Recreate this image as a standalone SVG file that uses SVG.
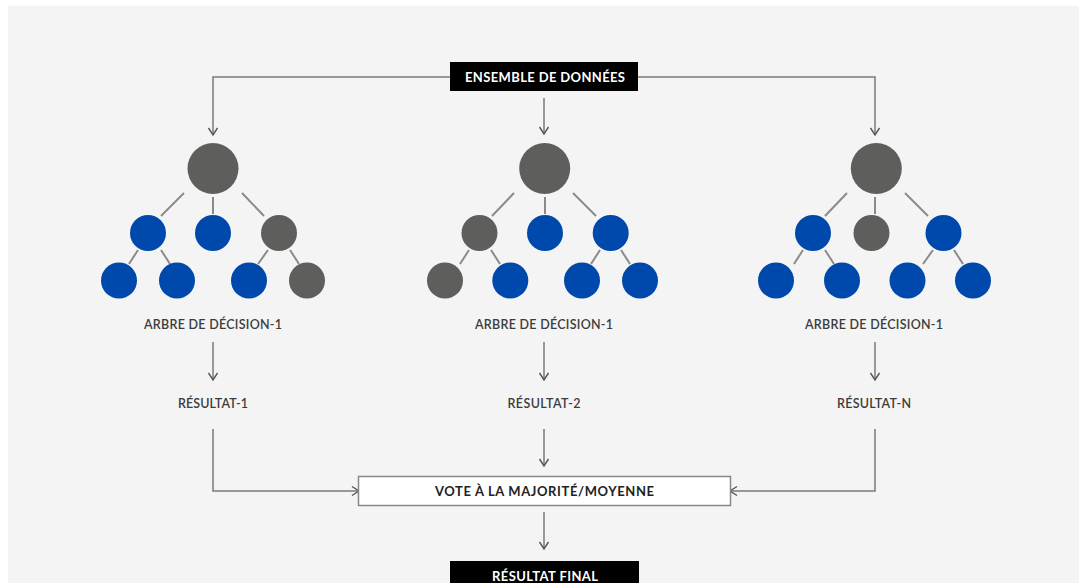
<svg xmlns="http://www.w3.org/2000/svg" width="1079" height="583" viewBox="0 0 1079 583">
  <defs>
    <marker id="arrow" viewBox="0 0 12 12" refX="10" refY="6" markerWidth="12" markerHeight="12" markerUnits="userSpaceOnUse" orient="auto">
      <path d="M3,1.5 L10,6 L3,10.5" fill="none" stroke="#555" stroke-width="1.4"/>
    </marker>
    <style>
      .panel { fill: #f4f4f4; }
      .conn { fill: none; stroke: #7a7a7a; stroke-width: 1.5; }
      .edge { stroke: #8a8a8a; stroke-width: 2; }
      .g { fill: #5e5e5c; }
      .b { fill: #0049ac; }
      .dark { fill: #000; }
      .vote { fill: #fff; stroke: #888; stroke-width: 1.5; }
      .title { font-family: Lato, "Open Sans", sans-serif; font-weight: 700; font-size: 13px; fill: #fff; text-anchor: middle; }
      .label { font-family: Lato, "Open Sans", sans-serif; font-weight: 600; font-size: 12.5px; fill: #3c3c3c; text-anchor: middle; }
      .votetxt { font-family: Lato, "Open Sans", sans-serif; font-weight: 700; font-size: 13px; fill: #222; text-anchor: middle; }
    </style>
  </defs>

  <rect x="0" y="0" width="1079" height="583" fill="#fff"/>
  <rect class="panel" x="8" y="6" width="1071" height="577"/>

  <!-- connectors -->
  <g id="connectors">
    <polyline class="conn" points="450,77 213,77 213,135" marker-end="url(#arrow)"/>
    <polyline class="conn" points="638,77 875,77 875,135" marker-end="url(#arrow)"/>
    <line class="conn" x1="544" y1="98" x2="544" y2="134" marker-end="url(#arrow)"/>

    <line class="conn" x1="213" y1="342" x2="213" y2="380" marker-end="url(#arrow)"/>
    <line class="conn" x1="544" y1="342" x2="544" y2="380" marker-end="url(#arrow)"/>
    <line class="conn" x1="875" y1="342" x2="875" y2="380" marker-end="url(#arrow)"/>

    <polyline class="conn" points="213,429 213,491 359,491" marker-end="url(#arrow)"/>
    <line class="conn" x1="544" y1="429" x2="544" y2="466" marker-end="url(#arrow)"/>
    <polyline class="conn" points="875,429 875,491 730,491" marker-end="url(#arrow)"/>

    <line class="conn" x1="544" y1="512" x2="544" y2="549" marker-end="url(#arrow)"/>
  </g>

  <!-- data set -->
  <g id="dataset">
    <rect class="dark" x="450" y="62" width="188" height="29"/>
    <text class="title" x="545" y="81.5" textLength="160">ENSEMBLE DE DONNÉES</text>
  </g>

  <!-- tree 1 -->
  <g id="tree1">
    <line class="edge" x1="184" y1="193" x2="161" y2="216"/>
    <line class="edge" x1="213" y1="197" x2="213" y2="214"/>
    <line class="edge" x1="242" y1="193" x2="264" y2="216"/>
    <line class="edge" x1="138" y1="250" x2="129" y2="264"/>
    <line class="edge" x1="161" y1="250" x2="170" y2="264"/>
    <line class="edge" x1="268" y1="250" x2="258" y2="264"/>
    <line class="edge" x1="290" y1="250" x2="299" y2="264"/>
    <circle class="g" cx="213" cy="168.5" r="25.5"/>
    <circle class="b" cx="148" cy="233" r="18"/>
    <circle class="b" cx="213" cy="233" r="18"/>
    <circle class="g" cx="279" cy="233" r="18"/>
    <circle class="b" cx="119" cy="280.5" r="18"/>
    <circle class="b" cx="177" cy="280.5" r="18"/>
    <circle class="b" cx="249" cy="280.5" r="18"/>
    <circle class="g" cx="307" cy="280.5" r="18"/>
  </g>
  <g id="label1"><text class="label" x="213" y="329" textLength="138">ARBRE DE DÉCISION-1</text></g>
  <g id="result1"><text class="label" x="213" y="408" textLength="70">RÉSULTAT-1</text></g>

  <!-- tree 2 -->
  <g id="tree2">
    <line class="edge" x1="514" y1="193" x2="492" y2="216"/>
    <line class="edge" x1="545" y1="197" x2="545" y2="214"/>
    <line class="edge" x1="573" y1="193" x2="596" y2="216"/>
    <line class="edge" x1="469" y1="250" x2="460" y2="264"/>
    <line class="edge" x1="491" y1="250" x2="500" y2="264"/>
    <line class="edge" x1="600" y1="250" x2="591" y2="264"/>
    <line class="edge" x1="621" y1="250" x2="630" y2="264"/>
    <circle class="g" cx="544.7" cy="168.5" r="25.5"/>
    <circle class="g" cx="479.5" cy="233" r="18"/>
    <circle class="b" cx="545" cy="233" r="18"/>
    <circle class="b" cx="610.7" cy="233" r="18"/>
    <circle class="g" cx="445" cy="280.5" r="18"/>
    <circle class="b" cx="510.3" cy="280.5" r="18"/>
    <circle class="b" cx="582" cy="280.5" r="18"/>
    <circle class="b" cx="640" cy="280.5" r="18"/>
  </g>
  <g id="label2"><text class="label" x="544" y="329" textLength="138">ARBRE DE DÉCISION-1</text></g>
  <g id="result2"><text class="label" x="544" y="408" textLength="73">RÉSULTAT-2</text></g>

  <!-- tree 3 -->
  <g id="tree3">
    <line class="edge" x1="847" y1="193" x2="825" y2="216"/>
    <line class="edge" x1="875" y1="197" x2="875" y2="214"/>
    <line class="edge" x1="905" y1="193" x2="928" y2="216"/>
    <line class="edge" x1="803" y1="250" x2="794" y2="264"/>
    <line class="edge" x1="825" y1="250" x2="834" y2="264"/>
    <line class="edge" x1="933" y1="250" x2="923" y2="264"/>
    <line class="edge" x1="954" y1="250" x2="963" y2="264"/>
    <circle class="g" cx="876.3" cy="168.5" r="25.5"/>
    <circle class="b" cx="813" cy="233" r="18"/>
    <circle class="g" cx="871.5" cy="233" r="18"/>
    <circle class="b" cx="943.5" cy="233" r="18"/>
    <circle class="b" cx="776" cy="280.5" r="18"/>
    <circle class="b" cx="842" cy="280.5" r="18"/>
    <circle class="b" cx="907.5" cy="280.5" r="18"/>
    <circle class="b" cx="973" cy="280.5" r="18"/>
  </g>
  <g id="label3"><text class="label" x="874" y="329" textLength="138">ARBRE DE DÉCISION-1</text></g>
  <g id="result3"><text class="label" x="874" y="408" textLength="74">RÉSULTAT-N</text></g>

  <!-- aggregation -->
  <g id="vote">
    <rect class="vote" x="358.5" y="476.5" width="372" height="29"/>
    <text class="votetxt" x="544.5" y="495.5" textLength="219">VOTE À LA MAJORITÉ/MOYENNE</text>
  </g>

  <!-- final output -->
  <g id="final">
    <rect class="dark" x="450" y="561" width="189" height="30"/>
    <text class="title" x="545" y="581" textLength="106">RÉSULTAT FINAL</text>
  </g>
</svg>
